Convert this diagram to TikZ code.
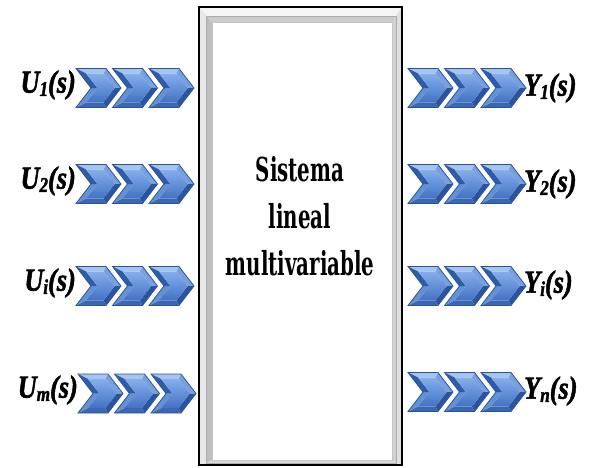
\documentclass[tikz,border=0pt]{standalone}
\usepackage{fontspec}
\newfontfamily\centerfont[FakeStretch=0.6]{DejaVu Serif}
\newfontfamily\labfont[FakeStretch=0.82, FakeBold=1.6]{Liberation Serif}
\definecolor{chevout}{HTML}{2E5590}
\definecolor{facetA}{HTML}{A4C4F2}
\definecolor{facetB}{HTML}{78A0E0}
\definecolor{facetC}{HTML}{2A559C}
\definecolor{facetD}{HTML}{3A67B0}
\definecolor{facetE}{HTML}{6490D4}
\definecolor{facetF}{HTML}{2E5DA8}
\definecolor{faceTop}{HTML}{86AEEC}
\definecolor{faceBot}{HTML}{4272C4}
\tikzset{
  x=1pt, y=-1pt,
  chevron/.pic={
    \fill[facetA] (0,0) -- (30,0) -- (27.5,5) -- (10.1,5) -- cycle;
    \fill[facetB] (30,0) -- (45,19.5) -- (38.7,19.5) -- (27.5,5) -- cycle;
    \fill[facetC] (45,19.5) -- (30,39) -- (27.5,34) -- (38.7,19.5) -- cycle;
    \fill[facetD] (30,39) -- (0,39) -- (10.1,34) -- (27.5,34) -- cycle;
    \fill[facetE] (0,39) -- (15,19.5) -- (21.3,19.5) -- (10.1,34) -- cycle;
    \fill[facetF] (15,19.5) -- (0,0) -- (10.1,5) -- (21.3,19.5) -- cycle;
    \shade[top color=faceTop, bottom color=faceBot]
      (10.1,5) -- (27.5,5) -- (38.7,19.5) -- (27.5,34) -- (10.1,34) -- (21.3,19.5) -- cycle;
    \draw[chevout, line width=0.8pt, line join=miter]
      (0,0) -- (30,0) -- (45,19.5) -- (30,39) -- (0,39) -- (15,19.5) -- cycle;
  },
  chevrow/.pic={
    \pic at (0,0) {chevron};
    \pic at (36.5,0) {chevron};
    \pic at (73,0) {chevron};
  },
  lab/.style={font=\labfont\bfseries\itshape\fontsize{32}{32}\selectfont, inner sep=0pt},
  sysbox/.style={font=\centerfont\bfseries\fontsize{33}{47}\selectfont, align=center, inner sep=0pt}
}
\newcommand{\sbx}[1]{\raisebox{-0.1em}{\fontsize{21}{21}\selectfont #1}}
\begin{document}
\begin{tikzpicture}
\useasboundingbox (0,0) rectangle (592,467);
\fill[white] (0,0) rectangle (592,467);
% frame of the system box
\fill[gray!8] (199,7) -- (402,7) -- (392,22) -- (212,22) -- cycle;
\fill[gray!18] (199,7) -- (212,22) -- (212,460) -- (199,465) -- cycle;
\fill[gray!25] (402,7) -- (402,465) -- (392,460) -- (392,22) -- cycle;
\fill[gray!22] (199,465) -- (402,465) -- (392,460) -- (212,460) -- cycle;
% inner bevel
\fill[gray!40] (206,16) -- (396,16) -- (392,22) -- (212,22) -- cycle;
\fill[gray!50] (206,16) -- (212,22) -- (212,460) -- (206,463) -- cycle;
\fill[gray!35] (396,16) -- (396,463) -- (392,460) -- (392,22) -- cycle;
\fill[gray!30] (206,463) -- (396,463) -- (392,460) -- (212,460) -- cycle;
\draw[gray!65, line width=0.6pt] (206,16) rectangle (396,463);
\fill[white] (212,22) rectangle (392,460);
\draw[gray!45, line width=0.5pt] (212,22) rectangle (392,460);
\draw[black, line width=2.2pt] (199,7) rectangle (402,465);
\node[sysbox] (sys) at (300,216) {Sistema\\lineal\\multivariable};
% input chevrons
\pic at (76,68.5) {chevrow};
\pic at (76,164.5) {chevrow};
\pic at (76,266.5) {chevrow};
\pic at (78,374) {chevrow};
% output chevrons
\pic at (408,68.5) {chevrow};
\pic at (408,164.5) {chevrow};
\pic at (408,266.5) {chevrow};
\pic at (408,372.5) {chevrow};
% labels
\node[lab, anchor=east] (u1) at (76,85) {U\sbx{1}(s)};
\node[lab, anchor=east] (u2) at (76,181) {U\sbx{2}(s)};
\node[lab, anchor=east] (ui) at (76,283) {U\sbx{i}(s)};
\node[lab, anchor=east] (um) at (78,390) {U\sbx{m}(s)};
\node[lab, anchor=west] (y1) at (524,88) {Y\sbx{1}(s)};
\node[lab, anchor=west] (y2) at (524,184) {Y\sbx{2}(s)};
\node[lab, anchor=west] (yi) at (524,285) {Y\sbx{i}(s)};
\node[lab, anchor=west] (yn) at (524,391) {Y\sbx{n}(s)};
\end{tikzpicture}
\end{document}
